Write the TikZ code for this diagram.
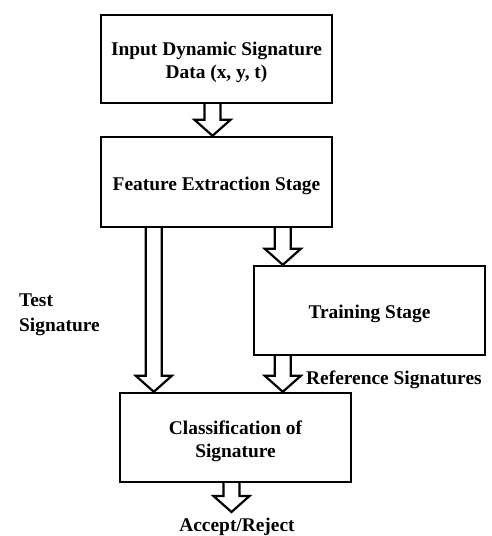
\documentclass[tikz,border=0pt]{standalone}
\usepackage{fontspec}
\setmainfont{Liberation Serif}
\usetikzlibrary{calc}
\tikzset{
  stagebox/.style={draw, line width=2.4pt, minimum width=231pt, minimum height=89pt,
    align=center, inner sep=0pt, font=\fontsize{19.4}{23}\selectfont\bfseries},
  lbl/.style={inner sep=0pt, font=\fontsize{19.4}{25}\selectfont\bfseries},
  hollow/.style={draw, line width=2.2pt, fill=white, line join=miter}
}
% set a line of box text a little lower without changing the box layout
\newcommand\lowline[1]{\raisebox{-3.5pt}[\height][\depth]{#1}}
% hollow block arrow: x taken from #1, tip at the y of #2
\newcommand\blockarrow[2]{%
  \path[hollow] let \p1=(#1), \p2=(#2) in
    (\x1-8pt,\y1) -- (\x1-8pt,\y2+16pt) -- (\x1-18pt,\y2+16pt) -- (\x1,\y2)
    -- (\x1+18pt,\y2+16pt) -- (\x1+8pt,\y2+16pt) -- (\x1+8pt,\y1);}
\begin{document}
\begin{tikzpicture}[x=1pt,y=-1pt]
\useasboundingbox (0,0) rectangle (491,536);
\node[stagebox, minimum height=88pt] (in) at (216.5,59)
  {\lowline{Input Dynamic Signature}\\\lowline{Data (x, y, t)}};
\node[stagebox, minimum height=90pt] (fe) at (216.5,182) {\lowline{Feature Extraction Stage}};
\node[stagebox] (tr) at (369.5,310.5) {\lowline{Training Stage}};
\node[stagebox] (cls) at (235.5,437.5) {\lowline{Classification of}\\\lowline{Signature}};
\coordinate (out) at (231.5,512);

\blockarrow{[xshift=-4pt]in.south}{fe.north}
\blockarrow{[xshift=54pt]fe.south west}{[xshift=-120pt]cls.north}
\blockarrow{[xshift=183pt]fe.south west}{tr.north}
\blockarrow{[xshift=30pt]tr.south west}{[xshift=164pt]cls.north west}
\blockarrow{[xshift=-4pt]cls.south}{out}

\node[lbl, anchor=north west, align=left] (ts) at (19,294) {Test\\Signature};
\node[lbl, anchor=west] (rs) at (306,380) {Reference Signatures};
\node[lbl, anchor=base] (ar) at (237,531) {Accept/Reject};
\end{tikzpicture}
\end{document}
